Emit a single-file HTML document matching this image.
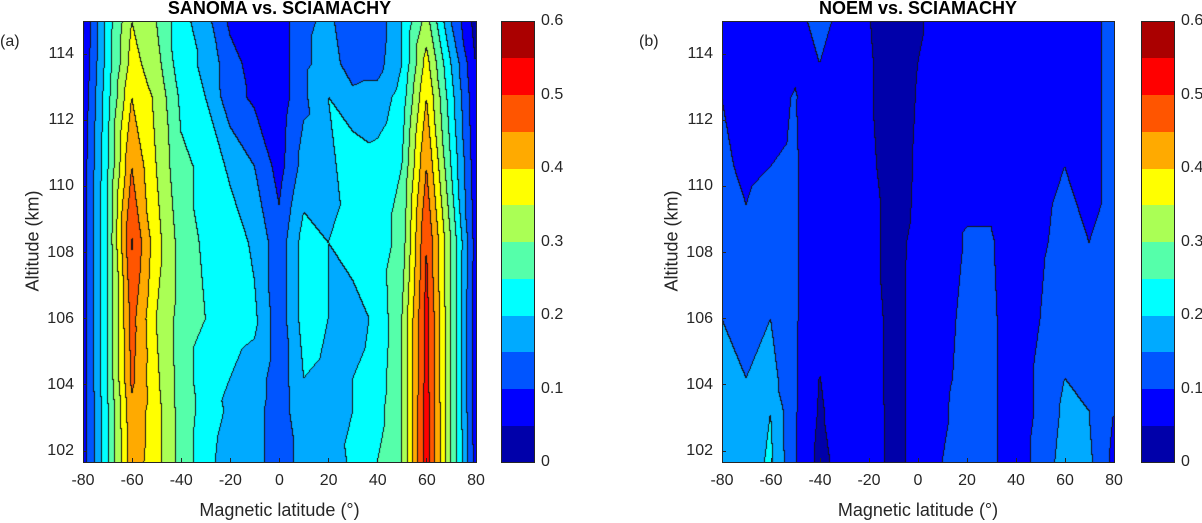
<!DOCTYPE html>
<html><head><meta charset="utf-8">
<style>
body{margin:0;background:#fff;width:1202px;height:523px;position:relative;overflow:hidden;font-family:"Liberation Sans",Arial,sans-serif;color:#262626}
.abs{position:absolute}
.tt{font-weight:bold;font-size:18px;color:#000;white-space:nowrap;transform:translateX(-50%)}
.yl{font-size:16px;text-align:right;width:40px;transform:translateY(-50%)}
.xl{font-size:16px;transform:translateX(-50%);white-space:nowrap}
.cl{font-size:16px;transform:translateY(-50%)}
.lab{font-size:16px;white-space:nowrap}
.axt{font-size:18px;white-space:nowrap}
canvas{position:absolute}
.frame{position:absolute;border:1px solid #262626;box-sizing:border-box}
.tick{position:absolute;background:#262626}
</style></head><body>
<div id="root"></div>
<script>
const lat=[-80,-70,-60,-50,-40,-30,-20,-10,0,10,20,30,40,50,60,70,80];
const alt=[101.67,103.2,104.2,106,108.3,110.6,112.7,113.7,115];
const levels=[0,0.05,0.1,0.15,0.2,0.25,0.3,0.35,0.4,0.45,0.5,0.55,0.6];
const cbTicks=[0,0.1,0.2,0.3,0.4,0.5,0.6];
const xTicks=[-80,-60,-40,-20,0,20,40,60,80];
const yTicks=[102,104,106,108,110,112,114];
// values[row by alt][col by lat]
const valsA=[
[0.07,0.24,0.43,0.37,0.28,0.22,0.17,0.17,0.12,0.17,0.17,0.21,0.25,0.3,0.53,0.3,0.08],
[0.07,0.24,0.44,0.37,0.28,0.23,0.19,0.17,0.12,0.19,0.18,0.2,0.23,0.3,0.53,0.3,0.07],
[0.07,0.25,0.46,0.36,0.28,0.22,0.2,0.18,0.12,0.2,0.19,0.2,0.22,0.3,0.52,0.3,0.07],
[0.07,0.25,0.47,0.35,0.28,0.25,0.22,0.21,0.12,0.22,0.2,0.18,0.21,0.3,0.52,0.3,0.07],
[0.07,0.25,0.505,0.37,0.28,0.24,0.23,0.19,0.12,0.22,0.2,0.22,0.22,0.27,0.5,0.3,0.08],
[0.07,0.24,0.45,0.35,0.26,0.24,0.19,0.15,0.08,0.17,0.18,0.24,0.22,0.25,0.45,0.25,0.07],
[0.06,0.23,0.4,0.34,0.24,0.2,0.12,0.09,0.07,0.14,0.2,0.16,0.17,0.22,0.4,0.22,0.06],
[0.05,0.22,0.37,0.32,0.22,0.19,0.12,0.08,0.07,0.14,0.17,0.13,0.13,0.2,0.37,0.2,0.05],
[0.045,0.22,0.35,0.3,0.22,0.17,0.09,0.07,0.07,0.14,0.16,0.12,0.12,0.2,0.32,0.15,0.03]];
const valsB=[
[0.18,0.17,0.21,0.105,0.035,0.07,0.07,0.04,0.06,0.1,0.13,0.11,0.07,0.12,0.17,0.16,0.09],
[0.17,0.16,0.2,0.105,0.045,0.07,0.07,0.04,0.06,0.09,0.13,0.11,0.07,0.11,0.16,0.15,0.1],
[0.16,0.15,0.17,0.105,0.049,0.07,0.065,0.04,0.06,0.085,0.12,0.11,0.07,0.11,0.15,0.14,0.11],
[0.15,0.13,0.15,0.105,0.07,0.07,0.065,0.04,0.06,0.08,0.115,0.11,0.07,0.1,0.14,0.13,0.11],
[0.13,0.11,0.13,0.105,0.07,0.07,0.06,0.04,0.058,0.07,0.105,0.105,0.07,0.09,0.12,0.1,0.11],
[0.11,0.09,0.1,0.105,0.07,0.07,0.06,0.03,0.055,0.07,0.08,0.08,0.07,0.08,0.1,0.09,0.11],
[0.1,0.08,0.09,0.102,0.08,0.07,0.055,0.03,0.052,0.07,0.07,0.07,0.06,0.07,0.08,0.09,0.11],
[0.09,0.07,0.08,0.095,0.1,0.08,0.055,0.03,0.05,0.07,0.07,0.07,0.06,0.07,0.07,0.09,0.11],
[0.08,0.07,0.08,0.09,0.11,0.09,0.052,0.03,0.043,0.07,0.07,0.07,0.05,0.06,0.07,0.09,0.11]];
const colors=[[0,0,170],[0,0,255],[0,85,255],[0,170,255],[0,255,255],[85,255,170],[170,255,85],[255,255,0],[255,170,0],[255,85,0],[255,0,0],[170,0,0]];

const root=document.getElementById('root');
const T=21,B=462,LATMIN=-80,LATMAX=80,AMIN=101.67,AMAX=115;
function el(cls,x,y,txt,name){const d=document.createElement('div');d.className='abs '+cls;d.style.left=x+'px';d.style.top=y+'px';d.textContent=txt;


root.appendChild(d);return d;}
function interp(arr,v){for(let i=0;i<arr.length-1;i++){if(v<=arr[i+1]||i==arr.length-2){return [i,(v-arr[i])/(arr[i+1]-arr[i])];}}}
function lvl(v){let k=Math.floor(v/0.05+1e-9);return Math.max(0,Math.min(11,k));}
function panel(L,R,vals,title,tag,cbx,id){
  const W=R-L,H=B-T;
  const c=document.createElement('canvas');c.width=W;c.height=H;c.style.left=L+'px';c.style.top=T+'px';
  
  
  root.appendChild(c);
  const ctx=c.getContext('2d');const img=ctx.createImageData(W,H);
  const lv=new Int8Array(W*H);
  for(let py=0;py<H;py++){const a=AMAX-(py+0.5)/H*(AMAX-AMIN);const [j,ty]=interp(alt,Math.max(alt[0],Math.min(alt[alt.length-1],a)));
    for(let px=0;px<W;px++){const la=LATMIN+(px+0.5)/W*(LATMAX-LATMIN);const [i,tx]=interp(lat,la);
      const a00=vals[j][i],a10=vals[j][i+1],a01=vals[j+1][i],a11=vals[j+1][i+1];
      let v;
      if(tx+ty<=1){v=a00+(a10-a00)*tx+(a01-a00)*ty;}else{v=a11+(a01-a11)*(1-tx)+(a10-a11)*(1-ty);}
      lv[py*W+px]=lvl(v);}}
  for(let py=0;py<H;py++)for(let px=0;px<W;px++){const k=lv[py*W+px];let col=colors[k];
    const edge=(px<W-1&&lv[py*W+px+1]!=k)||(py<H-1&&lv[(py+1)*W+px]!=k);
    if(edge)col=[20,20,20];const o=(py*W+px)*4;img.data[o]=col[0];img.data[o+1]=col[1];img.data[o+2]=col[2];img.data[o+3]=255;}
  ctx.putImageData(img,0,0);
  const f=document.createElement('div');f.className='frame';f.style.left=L+'px';f.style.top=T+'px';f.style.width=(W+1)+'px';f.style.height=(H+1)+'px';
  
  
  root.appendChild(f);
  xTicks.forEach(t=>{const x=L+(t-LATMIN)/(LATMAX-LATMIN)*W;
    el('xl',x,472,String(t),id+'-x-tick-label');
    const tk=document.createElement('div');tk.className='tick';tk.style.left=(x-0.5)+'px';tk.style.top=(B-4)+'px';tk.style.width='1px';tk.style.height='4px';
    
    
    root.appendChild(tk);});
  yTicks.forEach(t=>{const y=T+(AMAX-t)/(AMAX-AMIN)*H;
    el('yl',L-49,y,String(t),id+'-y-tick-label');
    const tk=document.createElement('div');tk.className='tick';tk.style.left=L+'px';tk.style.top=(y-0.5)+'px';tk.style.width='4px';tk.style.height='1px';
    
    
    root.appendChild(tk);});
  el('tt',(L+R)/2,-2,title,id+'-title');
  el('lab',L-83,33,tag,id+'-panel-label');
  const xl=el('axt',(L+R)/2,500,'Magnetic latitude (°)',id+'-x-axis-title');xl.style.transform='translateX(-50%)';
  const yl=el('axt',L-50,241,'Altitude (km)',id+'-y-axis-title');yl.style.transform='translate(-50%,-50%) rotate(-90deg)';
  const bh=H/(levels.length-1);
  for(let k=0;k<levels.length-1;k++){const d=document.createElement('div');d.className='abs';d.style.left=cbx+'px';d.style.width='33px';
    d.style.top=(B-(k+1)*bh)+'px';d.style.height=(bh+0.5)+'px';d.style.background='rgb('+colors[k].join(',')+')';
    
    
    root.appendChild(d);}
  const cf=document.createElement('div');cf.className='frame';cf.style.left=cbx+'px';cf.style.top=T+'px';cf.style.width='34px';cf.style.height=(H+1)+'px';
  
  
  root.appendChild(cf);
  cbTicks.forEach(t=>{const y=B-t/0.6*H;el('cl',cbx+40,y,t===0?'0':String(t),id+'-colorbar-tick-label');});
}
panel(83,476,valsA,'SANOMA vs. SCIAMACHY','(a)',501,'panel-a');
panel(722,1114,valsB,'NOEM vs. SCIAMACHY','(b)',1141,'panel-b');
</script>
</body></html>
